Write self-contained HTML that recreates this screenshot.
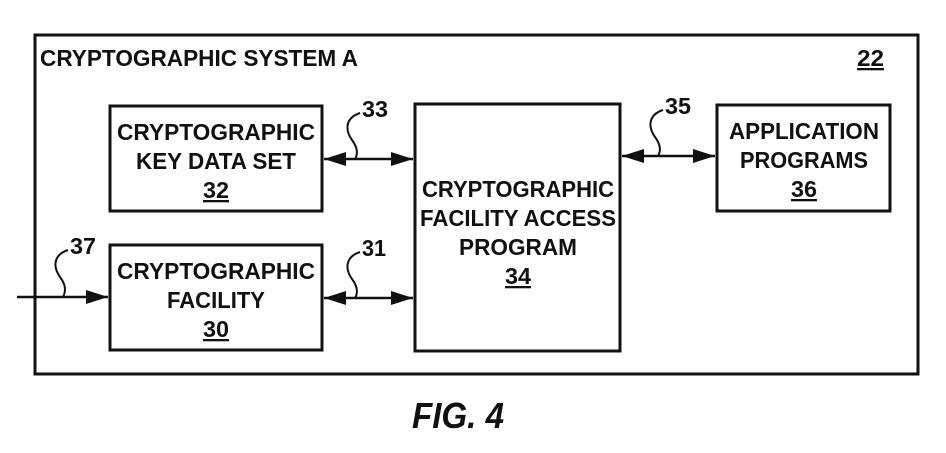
<!DOCTYPE html>
<html><head><style>body{margin:0;background:#fff}svg{display:block}</style></head><body>
<svg width="946" height="453" viewBox="0 0 946 453" xmlns="http://www.w3.org/2000/svg" font-family="Liberation Sans, Arial, sans-serif" font-weight="bold" fill="#111">
<g fill="none" stroke="#111" stroke-width="3">
<rect x="35" y="35" width="883" height="339"/>
<rect x="110" y="106" width="212" height="105"/>
<rect x="110" y="245" width="212" height="105"/>
<rect x="415" y="104" width="205" height="247"/>
<rect x="717" y="105" width="173" height="106"/>
</g>
<g stroke="#111" stroke-width="2.5" fill="none">
<line x1="324" y1="159" x2="413" y2="159"/>
<line x1="324" y1="298" x2="413" y2="298"/>
<line x1="622" y1="156" x2="715" y2="156"/>
<line x1="17" y1="297" x2="108" y2="297"/>
</g>
<g fill="#111">
<path d="M324,159 l22,-7 v14z"/><path d="M413,159 l-22,-7 v14z"/>
<path d="M324,298 l22,-7 v14z"/><path d="M413,298 l-22,-7 v14z"/>
<path d="M622,156 l22,-7 v14z"/><path d="M715,156 l-22,-7 v14z"/>
<path d="M108,297 l-22,-7 v14z"/>
</g>
<g stroke="#111" stroke-width="2" fill="none">
<path d="M360,113 C345,118 345,130 352,140 C358,148 358,154 355,159"/>
<path d="M360,252 C345,257 345,269 352,279 C358,287 358,293 355,298"/>
<path d="M663,110 C648,115 648,127 655,137 C661,145 661,151 658,156"/>
<path d="M68,250 C53,255 53,267 60,277 C66,285 66,291 63,297"/>
</g>
<g font-size="23">
<text x="40" y="66" textLength="318" lengthAdjust="spacingAndGlyphs">CRYPTOGRAPHIC SYSTEM A</text>
<text x="857" y="66" textLength="27" lengthAdjust="spacingAndGlyphs" text-decoration="underline">22</text>
<text x="216" y="140" text-anchor="middle" textLength="198" lengthAdjust="spacingAndGlyphs">CRYPTOGRAPHIC</text>
<text x="216" y="169" text-anchor="middle" textLength="160" lengthAdjust="spacingAndGlyphs">KEY DATA SET</text>
<text x="216" y="198" text-anchor="middle" textLength="26" lengthAdjust="spacingAndGlyphs" text-decoration="underline">32</text>
<text x="216" y="279" text-anchor="middle" textLength="198" lengthAdjust="spacingAndGlyphs">CRYPTOGRAPHIC</text>
<text x="216" y="308" text-anchor="middle" textLength="98" lengthAdjust="spacingAndGlyphs">FACILITY</text>
<text x="216" y="337" text-anchor="middle" textLength="26" lengthAdjust="spacingAndGlyphs" text-decoration="underline">30</text>
<text x="518" y="197" text-anchor="middle" textLength="192" lengthAdjust="spacingAndGlyphs">CRYPTOGRAPHIC</text>
<text x="518" y="226" text-anchor="middle" textLength="196" lengthAdjust="spacingAndGlyphs">FACILITY ACCESS</text>
<text x="518" y="255" text-anchor="middle" textLength="118" lengthAdjust="spacingAndGlyphs">PROGRAM</text>
<text x="518" y="284" text-anchor="middle" textLength="26" lengthAdjust="spacingAndGlyphs" text-decoration="underline">34</text>
<text x="804" y="139" text-anchor="middle" textLength="150" lengthAdjust="spacingAndGlyphs">APPLICATION</text>
<text x="804" y="168" text-anchor="middle" textLength="128" lengthAdjust="spacingAndGlyphs">PROGRAMS</text>
<text x="804" y="197" text-anchor="middle" textLength="26" lengthAdjust="spacingAndGlyphs" text-decoration="underline">36</text>
<text x="362" y="117" textLength="26" lengthAdjust="spacingAndGlyphs">33</text>
<text x="362" y="256" textLength="24" lengthAdjust="spacingAndGlyphs">31</text>
<text x="665" y="114" textLength="26" lengthAdjust="spacingAndGlyphs">35</text>
<text x="70" y="254" textLength="26" lengthAdjust="spacingAndGlyphs">37</text>
</g>
<text x="458" y="428" text-anchor="middle" font-size="36" font-style="italic" textLength="92" lengthAdjust="spacingAndGlyphs">FIG. 4</text>
</svg>
</body></html>
